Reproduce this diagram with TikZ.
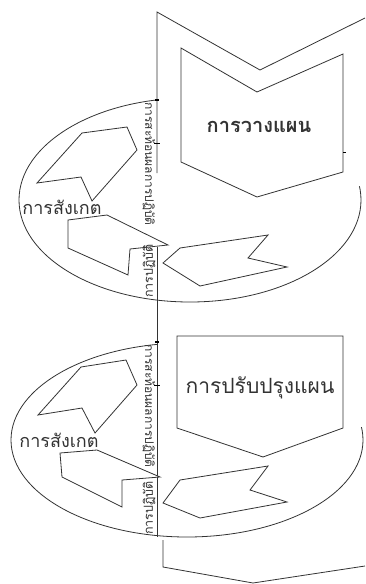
\documentclass[tikz,border=0pt]{standalone}
\usepackage{fontspec}
\newfontfamily\thai[Script=Thai]{Loma}
\begin{document}
\begin{tikzpicture}[x=1pt,y=-1pt,
  ln/.style={draw=black!80,line width=0.8pt,line join=miter},
  wf/.style={ln,fill=white},
  cover/.style={fill=white,draw=none},
  lbl/.style={font=\thai\fontsize{21}{21}\selectfont,inner sep=0pt,text=black!80},
  olbl/.style={font=\thai\fontsize{18}{18}\selectfont,inner sep=0pt,text=black!80},
  vlbl/.style={font=\thai\fontsize{12}{12}\selectfont,inner sep=0pt,text=black!80},
  slbl/.style={font=\thai\fontsize{12.5}{12.5}\selectfont,inner sep=0pt,text=black!80}]
\useasboundingbox (0,0) rectangle (365,584);
\clip (0,0) rectangle (365,584);
% ---------- upper cycle ----------
\draw[ln] (190,200) ellipse [x radius=171, y radius=102];
\fill[cover] (157.5,12) -- (260,70) -- (365,18) -- (365,186) -- (157.5,186) -- cycle;
\draw[ln] (157,173) -- (157,12) -- (260,70) -- (365,18);
\draw[wf] (181,48) -- (257,92) -- (343,54) -- (343,172) -- (257,197) -- (181,162) -- cycle;
\node[lbl,font=\thai\bfseries\fontsize{20}{20}\selectfont] (plan) at (259,127) {การวางแผน};
\draw[wf] (37,183) -- (82,133) -- (127,127) -- (137,150) -- (92,201) -- (81,177) -- cycle;
\draw[wf] (68,220) -- (107,215) -- (168,245) -- (130,249) -- (128,275) -- (68,248) -- cycle;
\draw[wf] (180,248) -- (268,235) -- (248,258) -- (287,267) -- (200,286) -- (163,263) -- cycle;
\node[olbl] (obs1) at (62,207) {การสังเกต};
\node[vlbl,rotate=-90] (refl1) at (149,164) {การสะท้อนผลการปฏิบัติ};
\node[slbl,rotate=90] (act1) at (149,271) {การปฏิบัติ};
\draw[line width=1.4pt] (155,100) -- (159,100);
\draw[line width=0.6pt] (154,143) -- (160,143);
\draw[line width=0.6pt] (343,152) -- (346,152);
% ---------- lower cycle ----------
\draw[ln] (187,440) ellipse [x radius=176, y radius=97];
\fill[cover] (157.5,305) rectangle (365,427);
\draw[ln] (157,247) -- (157,537);
\draw[wf] (177,336) -- (343,336) -- (343,428) -- (263,457) -- (177,428) -- cycle;
\node[lbl] (improve) at (260,388) {การปรับปรุงแผน};
\draw[wf] (38,415) -- (81,367) -- (126,360) -- (137,385) -- (95,433) -- (82,408) -- cycle;
\draw[wf] (60,453) -- (97,450) -- (160,477) -- (122,480) -- (122,507) -- (62,477) -- cycle;
\draw[wf] (180,480) -- (268,466) -- (250,490) -- (287,502) -- (200,518) -- (163,503) -- cycle;
\node[olbl] (obs2) at (59,440) {การสังเกต};
\node[vlbl,rotate=-90] (refl2) at (149,406) {การสะท้อนผลการปฏิบัติ};
\node[slbl,rotate=90] (act2) at (149,508) {การปฏิบัติ};
\draw[line width=1.4pt] (155,342) -- (159,342);
\draw[line width=0.6pt] (154,385) -- (160,385);
% ---------- bottom shape ----------
\draw[ln] (163,540) -- (163,567) -- (253,583) -- (365,566);
\end{tikzpicture}
\end{document}
